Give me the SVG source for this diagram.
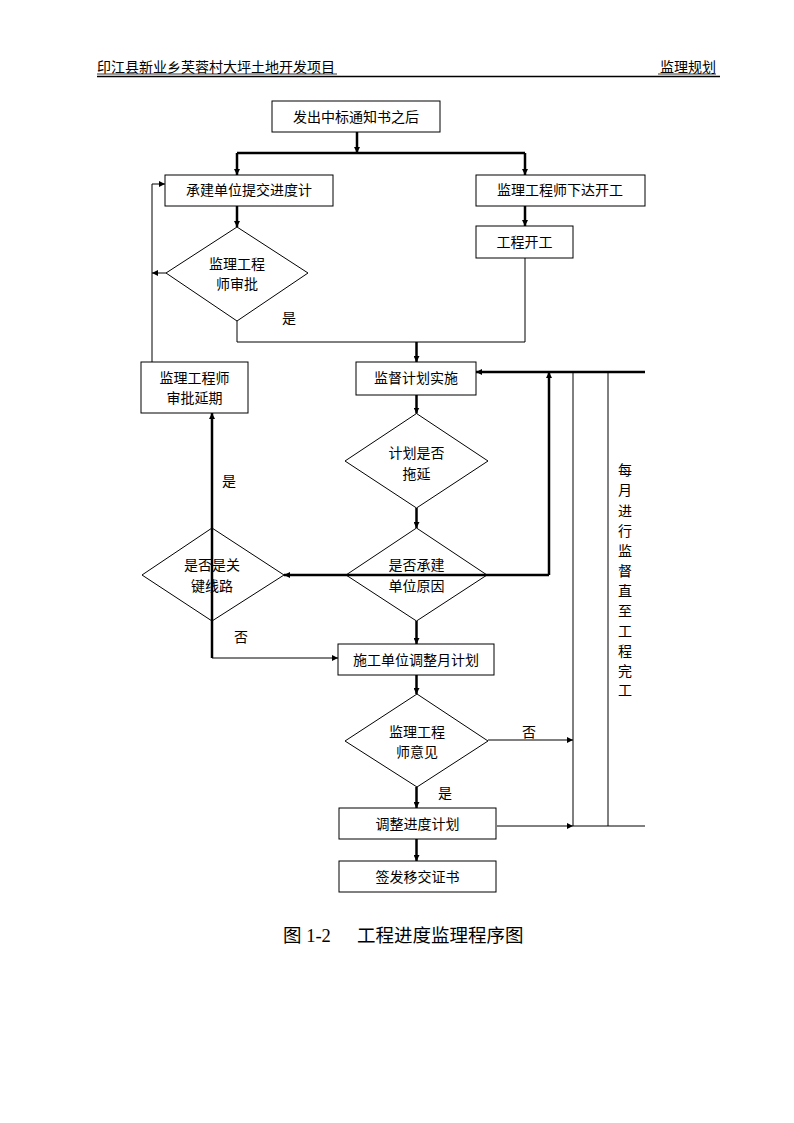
<svg xmlns="http://www.w3.org/2000/svg" width="794" height="1123" viewBox="0 0 794 1123">
<style>
.t{font-family:"Liberation Sans","Noto Sans CJK SC",sans-serif;font-size:14px;fill:#000}
.c{text-anchor:middle}
.n{fill:#fff;stroke:#000;stroke-width:1}
.k{fill:none;stroke:#000;stroke-width:2.5}
.h{fill:none;stroke:#000;stroke-width:1}
.ah{marker-end:url(#a)}
</style>
<defs>
<marker id="a" markerUnits="userSpaceOnUse" markerWidth="7" markerHeight="6" refX="6" refY="3" orient="auto"><path d="M0,0 L6,3 L0,6 z" fill="#000"/></marker>
</defs>
<rect width="794" height="1123" fill="#fff"/>
<g id="header">
<text class="t" x="97" y="72">印江县新业乡芙蓉村大坪土地开发项目</text>
<text class="t" x="716" y="72" text-anchor="end">监理规划</text>
<line x1="97" y1="74" x2="337" y2="74" stroke="#000" stroke-width="0.8"/>
<line x1="658" y1="74" x2="716" y2="74" stroke="#000" stroke-width="0.8"/>
<line x1="97" y1="76.5" x2="720" y2="76.5" stroke="#000" stroke-width="1.5"/>
</g>
<g id="n1"><rect class="n" x="272" y="101" width="168" height="31"/><text class="t c" x="356" y="122">发出中标通知书之后</text></g>
<g id="n2"><rect class="n" x="165" y="175" width="168" height="31"/><text class="t c" x="249" y="195">承建单位提交进度计</text></g>
<g id="n3"><rect class="n" x="476" y="175" width="169" height="31"/><text class="t c" x="560" y="195">监理工程师下达开工</text></g>
<g id="n4"><polygon class="n" points="237,227 308,273 237,321 166,273"/><text class="t c" x="237" y="269">监理工程</text><text class="t c" x="237" y="289">师审批</text></g>
<g id="n5"><rect class="n" x="476" y="226" width="97" height="32"/><text class="t c" x="524.5" y="247">工程开工</text></g>
<g id="n6"><rect class="n" x="356" y="362" width="120" height="33"/><text class="t c" x="416" y="383">监督计划实施</text></g>
<g id="n7"><rect class="n" x="141" y="362" width="107" height="51"/><text class="t c" x="194.5" y="383">监理工程师</text><text class="t c" x="194.5" y="403">审批延期</text></g>
<g id="n8"><polygon class="n" points="416.5,413.5 488,461 416.5,508 345,461"/><text class="t c" x="416.5" y="458">计划是否</text><text class="t c" x="416.5" y="479">拖延</text></g>
<g id="n9"><polygon class="n" points="416.5,528 487,575 416.5,621 346,575"/><text class="t c" x="416.5" y="570">是否承建</text><text class="t c" x="416.5" y="591">单位原因</text></g>
<g id="n10"><polygon class="n" points="212,528 284,575 212,621 142,575"/><text class="t c" x="212" y="570">是否是关</text><text class="t c" x="212" y="591">键线路</text></g>
<g id="n11"><rect class="n" x="338" y="644" width="156" height="31"/><text class="t c" x="416" y="665">施工单位调整月计划</text></g>
<g id="n12"><polygon class="n" points="417,694 488,741 417,787 345,741"/><text class="t c" x="417" y="737">监理工程</text><text class="t c" x="417" y="757">师意见</text></g>
<g id="n13"><rect class="n" x="339" y="808" width="157" height="31"/><text class="t c" x="417.5" y="829">调整进度计划</text></g>
<g id="n14"><rect class="n" x="339" y="861" width="157" height="31"/><text class="t c" x="417.5" y="882">签发移交证书</text></g>
<g id="connectors">
<path class="k ah" d="M357,132 V153"/>
<path class="k" d="M237,153 H525"/>
<path class="k ah" d="M237,153 V175"/>
<path class="k ah" d="M525,153 V175"/>
<path class="k ah" d="M237,206 V227"/>
<path class="k ah" d="M525,206 V226"/>
<path class="h" d="M237,321 V342 H525 V258"/>
<path class="k ah" d="M416.5,342 V362"/>
<path class="h ah" d="M152,362 V184 H165"/>
<path class="h ah" d="M166,273 H152"/>
<path class="k ah" d="M416.5,395 V413.5"/>
<path class="k ah" d="M416.5,508 V528"/>
<path class="k ah" d="M645,372 H476"/>
<path class="k ah" d="M549,575 V372"/>
<path class="k ah" d="M549,575 H284"/>
<path class="k ah" d="M212,658 V413"/>
<path class="h ah" d="M212,658 H338"/>
<path class="k ah" d="M416.5,621 V644"/>
<path class="k ah" d="M416.5,675 V694"/>
<path class="k ah" d="M416.5,787 V808"/>
<path class="k ah" d="M416.5,839 V861"/>
<path class="h ah" d="M488,740 H573"/>
<path class="h ah" d="M497,826 H573"/>
<path class="h" d="M573,826 H645"/>
<path class="h" d="M573,372 V826"/>
<path class="h" d="M608,372 V826"/>
</g>
<g id="labels">
<text class="t c" x="289" y="323">是</text>
<text class="t c" x="229" y="486">是</text>
<text class="t c" x="241" y="642">否</text>
<text class="t c" x="529" y="737">否</text>
<text class="t c" x="445" y="798">是</text>
<text class="t c" x="625"><tspan x="625" y="475">每</tspan><tspan x="625" y="495">月</tspan><tspan x="625" y="516">进</tspan><tspan x="625" y="536">行</tspan><tspan x="625" y="556">监</tspan><tspan x="625" y="576">督</tspan><tspan x="625" y="596">直</tspan><tspan x="625" y="616">至</tspan><tspan x="625" y="636">工</tspan><tspan x="625" y="656">程</tspan><tspan x="625" y="676">完</tspan><tspan x="625" y="695">工</tspan></text>
</g>
<g id="caption">
<text font-family="'Liberation Serif','Noto Sans CJK SC',serif" font-size="18.5" fill="#000"><tspan x="283" y="942">图 1-2</tspan><tspan x="357" y="942">工程进度监理程序图</tspan></text>
</g>
</svg>
